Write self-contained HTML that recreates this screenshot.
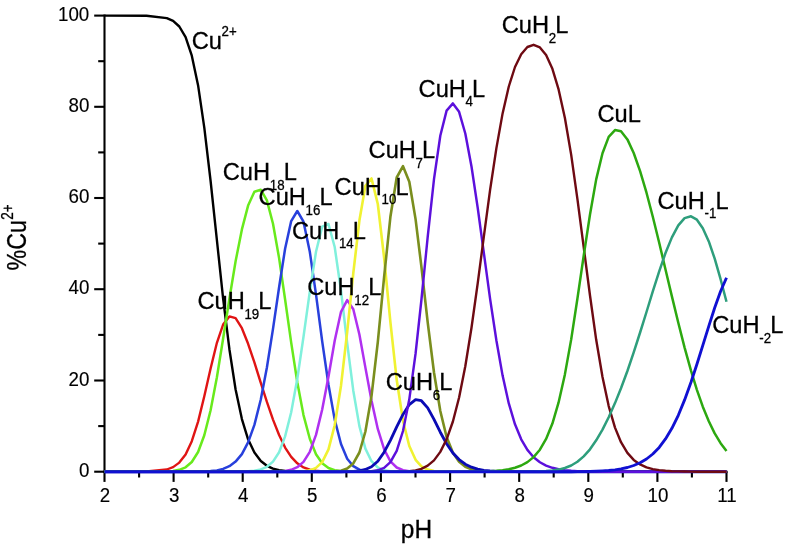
<!DOCTYPE html>
<html><head><meta charset="utf-8"><title>Cu speciation</title>
<style>
html,body{margin:0;padding:0;background:#fff}
svg{display:block}
text{font-family:"Liberation Sans",Arial,sans-serif;fill:#000;stroke:#000;stroke-width:0.3px}
.tk{font-size:20.7px;stroke-width:0.15px}
.lb{font-size:24.5px}
.sb{font-size:15.0px}
.ax line{stroke:#000;stroke-width:2.1}
.cv polyline{fill:none;stroke-linejoin:round;stroke-linecap:butt}
</style></head>
<body>
<svg width="786" height="546" viewBox="0 0 786 546">
<rect width="786" height="546" fill="#fff"/>
<g class="ax">
<line x1="104.5" y1="14.5" x2="104.5" y2="472.8" stroke-width="2.3"/>
<line x1="103.4" y1="471.7" x2="727.6" y2="471.7" stroke-width="2.3"/>
<line x1="94.2" y1="471.7" x2="104.5" y2="471.7"/>
<line x1="98.2" y1="426.1" x2="104.5" y2="426.1"/>
<line x1="94.2" y1="380.5" x2="104.5" y2="380.5"/>
<line x1="98.2" y1="334.9" x2="104.5" y2="334.9"/>
<line x1="94.2" y1="289.2" x2="104.5" y2="289.2"/>
<line x1="98.2" y1="243.6" x2="104.5" y2="243.6"/>
<line x1="94.2" y1="198.0" x2="104.5" y2="198.0"/>
<line x1="98.2" y1="152.4" x2="104.5" y2="152.4"/>
<line x1="94.2" y1="106.8" x2="104.5" y2="106.8"/>
<line x1="98.2" y1="61.2" x2="104.5" y2="61.2"/>
<line x1="94.2" y1="15.6" x2="104.5" y2="15.6"/>
<line x1="104.5" y1="471.7" x2="104.5" y2="481.9"/>
<line x1="139.1" y1="471.7" x2="139.1" y2="477.5"/>
<line x1="173.6" y1="471.7" x2="173.6" y2="481.9"/>
<line x1="208.2" y1="471.7" x2="208.2" y2="477.5"/>
<line x1="242.7" y1="471.7" x2="242.7" y2="481.9"/>
<line x1="277.3" y1="471.7" x2="277.3" y2="477.5"/>
<line x1="311.8" y1="471.7" x2="311.8" y2="481.9"/>
<line x1="346.4" y1="471.7" x2="346.4" y2="477.5"/>
<line x1="380.9" y1="471.7" x2="380.9" y2="481.9"/>
<line x1="415.5" y1="471.7" x2="415.5" y2="477.5"/>
<line x1="450.1" y1="471.7" x2="450.1" y2="481.9"/>
<line x1="484.6" y1="471.7" x2="484.6" y2="477.5"/>
<line x1="519.2" y1="471.7" x2="519.2" y2="481.9"/>
<line x1="553.7" y1="471.7" x2="553.7" y2="477.5"/>
<line x1="588.3" y1="471.7" x2="588.3" y2="481.9"/>
<line x1="622.8" y1="471.7" x2="622.8" y2="477.5"/>
<line x1="657.4" y1="471.7" x2="657.4" y2="481.9"/>
<line x1="691.9" y1="471.7" x2="691.9" y2="477.5"/>
<line x1="726.5" y1="471.7" x2="726.5" y2="481.9"/>
</g>
<g class="tks">
<text transform="translate(89.3,476.8) scale(0.905,1)" text-anchor="end" class="tk">0</text>
<text transform="translate(89.3,385.6) scale(0.905,1)" text-anchor="end" class="tk">20</text>
<text transform="translate(89.3,294.3) scale(0.905,1)" text-anchor="end" class="tk">40</text>
<text transform="translate(89.3,203.1) scale(0.905,1)" text-anchor="end" class="tk">60</text>
<text transform="translate(89.3,111.9) scale(0.905,1)" text-anchor="end" class="tk">80</text>
<text transform="translate(89.3,20.7) scale(0.905,1)" text-anchor="end" class="tk">100</text>
<text transform="translate(105.0,501.8) scale(0.905,1)" text-anchor="middle" class="tk">2</text>
<text transform="translate(174.1,501.8) scale(0.905,1)" text-anchor="middle" class="tk">3</text>
<text transform="translate(243.2,501.8) scale(0.905,1)" text-anchor="middle" class="tk">4</text>
<text transform="translate(312.3,501.8) scale(0.905,1)" text-anchor="middle" class="tk">5</text>
<text transform="translate(381.4,501.8) scale(0.905,1)" text-anchor="middle" class="tk">6</text>
<text transform="translate(450.6,501.8) scale(0.905,1)" text-anchor="middle" class="tk">7</text>
<text transform="translate(519.7,501.8) scale(0.905,1)" text-anchor="middle" class="tk">8</text>
<text transform="translate(588.8,501.8) scale(0.905,1)" text-anchor="middle" class="tk">9</text>
<text transform="translate(657.9,501.8) scale(0.905,1)" text-anchor="middle" class="tk">10</text>
<text transform="translate(727.0,501.8) scale(0.905,1)" text-anchor="middle" class="tk">11</text>
</g>
<g class="cv">
<polyline points="104.5,15.6 146.5,15.8 166.8,18.1 173.1,20.9 179.3,26.5 185.6,37.2 191.8,55.7 198.1,85.4 204.3,127.6 210.6,181.0 216.9,240.2 223.1,298.3 229.4,349.2 235.6,389.5 241.9,419.1 248.1,439.3 254.4,452.5 260.8,461.0 266.9,465.8 273.0,468.6 279.1,470.2 285.1,471.0 291.2,471.4 297.3,471.6 303.5,471.7 309.8,471.7 316.0,471.7 322.2,471.7 328.5,471.7 334.7,471.7 341.0,471.7 347.2,471.7 353.3,471.7 359.4,471.7 365.4,471.7 371.5,471.7 377.8,471.7 384.1,471.7 390.4,471.7 396.7,471.7 403.0,471.7 409.3,471.7 415.6,471.7 421.4,471.7 427.7,471.7 434.0,471.7 440.3,471.7 446.6,471.7 452.9,471.7 459.1,471.7 465.3,471.7 471.5,471.7 477.7,471.7 483.9,471.7 490.1,471.7 496.4,471.7 502.6,471.7 508.8,471.7 515.0,471.7 521.2,471.7 527.4,471.7 533.6,471.7 539.9,471.7 546.1,471.7 552.4,471.7 558.6,471.7 564.9,471.7 571.2,471.7 577.4,471.7 583.7,471.7 590.0,471.7 596.2,471.7 602.5,471.7 608.7,471.7 615.0,471.7 621.0,471.7 627.4,471.7 633.7,471.7 640.1,471.7 646.5,471.7 652.8,471.7 659.2,471.7 665.5,471.7 671.9,471.7 678.3,471.7 684.6,471.7 691.0,471.7 696.9,471.7 702.8,471.7 708.8,471.7 714.7,471.7 720.6,471.7 726.5,471.7" stroke="#000000" stroke-width="2.4"/>
<polyline points="104.5,471.7 146.5,471.5 166.8,469.5 173.1,467.1 179.3,462.6 185.6,454.5 191.8,441.2 198.1,421.6 204.3,396.3 210.6,368.4 216.9,342.8 223.1,324.6 229.4,316.4 235.6,318.2 241.9,328.2 248.1,343.8 254.4,362.4 260.8,382.8 266.9,401.9 273.0,419.6 279.1,435.0 285.1,447.6 291.2,456.9 297.3,463.3 303.5,467.4 309.8,469.7 316.0,470.8 322.2,471.4 328.5,471.6 334.7,471.7 341.0,471.7 347.2,471.7 353.3,471.7 359.4,471.7 365.4,471.7 371.5,471.7 377.8,471.7 384.1,471.7 390.4,471.7 396.7,471.7 403.0,471.7 409.3,471.7 415.6,471.7 421.4,471.7 427.7,471.7 434.0,471.7 440.3,471.7 446.6,471.7 452.9,471.7 459.1,471.7 465.3,471.7 471.5,471.7 477.7,471.7 483.9,471.7 490.1,471.7 496.4,471.7 502.6,471.7 508.8,471.7 515.0,471.7 521.2,471.7 527.4,471.7 533.6,471.7 539.9,471.7 546.1,471.7 552.4,471.7 558.6,471.7 564.9,471.7 571.2,471.7 577.4,471.7 583.7,471.7 590.0,471.7 596.2,471.7 602.5,471.7 608.7,471.7 615.0,471.7 621.0,471.7 627.4,471.7 633.7,471.7 640.1,471.7 646.5,471.7 652.8,471.7 659.2,471.7 665.5,471.7 671.9,471.7 678.3,471.7 684.6,471.7 691.0,471.7 696.9,471.7 702.8,471.7 708.8,471.7 714.7,471.7 720.6,471.7 726.5,471.7" stroke="#E01414" stroke-width="2.4"/>
<polyline points="104.5,471.7 146.5,471.7 166.8,471.4 173.1,470.9 179.3,469.8 185.6,467.3 191.8,462.0 198.1,452.0 204.3,435.2 210.6,410.2 216.9,377.2 223.1,338.8 229.4,298.8 235.6,261.3 241.9,229.4 248.1,205.6 254.4,191.7 260.8,189.7 266.9,200.4 273.0,223.8 279.1,258.1 285.1,299.5 291.2,342.7 297.3,382.3 303.5,415.1 309.8,438.8 316.0,454.2 322.2,463.2 328.5,468.0 334.7,470.2 341.0,471.2 347.2,471.5 353.3,471.7 359.4,471.7 365.4,471.7 371.5,471.7 377.8,471.7 384.1,471.7 390.4,471.7 396.7,471.7 403.0,471.7 409.3,471.7 415.6,471.7 421.4,471.7 427.7,471.7 434.0,471.7 440.3,471.7 446.6,471.7 452.9,471.7 459.1,471.7 465.3,471.7 471.5,471.7 477.7,471.7 483.9,471.7 490.1,471.7 496.4,471.7 502.6,471.7 508.8,471.7 515.0,471.7 521.2,471.7 527.4,471.7 533.6,471.7 539.9,471.7 546.1,471.7 552.4,471.7 558.6,471.7 564.9,471.7 571.2,471.7 577.4,471.7 583.7,471.7 590.0,471.7 596.2,471.7 602.5,471.7 608.7,471.7 615.0,471.7 621.0,471.7 627.4,471.7 633.7,471.7 640.1,471.7 646.5,471.7 652.8,471.7 659.2,471.7 665.5,471.7 671.9,471.7 678.3,471.7 684.6,471.7 691.0,471.7 696.9,471.7 702.8,471.7 708.8,471.7 714.7,471.7 720.6,471.7 726.5,471.7" stroke="#68EA1C" stroke-width="2.5"/>
<polyline points="104.5,471.7 146.5,471.7 166.8,471.7 173.1,471.7 179.3,471.7 185.6,471.7 191.8,471.7 198.1,471.6 204.3,471.5 210.6,471.1 216.9,470.4 223.1,468.9 229.4,466.2 235.6,461.6 241.9,454.1 248.1,442.4 254.4,424.9 260.8,399.5 266.9,367.5 273.0,328.9 279.1,287.2 285.1,248.7 291.2,221.1 297.3,211.0 303.5,221.7 309.8,251.7 316.0,294.4 322.2,341.3 328.5,384.7 334.7,419.6 341.0,444.0 347.2,458.8 353.3,466.2 359.4,469.7 365.4,471.0 371.5,471.5 377.8,471.6 384.1,471.7 390.4,471.7 396.7,471.7 403.0,471.7 409.3,471.7 415.6,471.7 421.4,471.7 427.7,471.7 434.0,471.7 440.3,471.7 446.6,471.7 452.9,471.7 459.1,471.7 465.3,471.7 471.5,471.7 477.7,471.7 483.9,471.7 490.1,471.7 496.4,471.7 502.6,471.7 508.8,471.7 515.0,471.7 521.2,471.7 527.4,471.7 533.6,471.7 539.9,471.7 546.1,471.7 552.4,471.7 558.6,471.7 564.9,471.7 571.2,471.7 577.4,471.7 583.7,471.7 590.0,471.7 596.2,471.7 602.5,471.7 608.7,471.7 615.0,471.7 621.0,471.7 627.4,471.7 633.7,471.7 640.1,471.7 646.5,471.7 652.8,471.7 659.2,471.7 665.5,471.7 671.9,471.7 678.3,471.7 684.6,471.7 691.0,471.7 696.9,471.7 702.8,471.7 708.8,471.7 714.7,471.7 720.6,471.7 726.5,471.7" stroke="#2840DC" stroke-width="2.5"/>
<polyline points="104.5,471.7 146.5,471.7 166.8,471.7 173.1,471.7 179.3,471.7 185.6,471.7 191.8,471.7 198.1,471.7 204.3,471.7 210.6,471.7 216.9,471.7 223.1,471.7 229.4,471.7 235.6,471.6 241.9,471.5 248.1,471.3 254.4,470.7 260.8,469.4 266.9,466.8 273.0,461.6 279.1,452.2 285.1,436.4 291.2,412.2 297.3,378.8 303.5,336.7 309.8,291.7 316.0,251.8 322.2,226.6 328.5,224.0 334.7,247.0 341.0,290.7 347.2,343.5 353.3,390.7 359.4,426.1 365.4,448.6 371.5,461.2 377.8,467.5 384.1,470.3 390.4,471.3 396.7,471.6 403.0,471.7 409.3,471.7 415.6,471.7 421.4,471.7 427.7,471.7 434.0,471.7 440.3,471.7 446.6,471.7 452.9,471.7 459.1,471.7 465.3,471.7 471.5,471.7 477.7,471.7 483.9,471.7 490.1,471.7 496.4,471.7 502.6,471.7 508.8,471.7 515.0,471.7 521.2,471.7 527.4,471.7 533.6,471.7 539.9,471.7 546.1,471.7 552.4,471.7 558.6,471.7 564.9,471.7 571.2,471.7 577.4,471.7 583.7,471.7 590.0,471.7 596.2,471.7 602.5,471.7 608.7,471.7 615.0,471.7 621.0,471.7 627.4,471.7 633.7,471.7 640.1,471.7 646.5,471.7 652.8,471.7 659.2,471.7 665.5,471.7 671.9,471.7 678.3,471.7 684.6,471.7 691.0,471.7 696.9,471.7 702.8,471.7 708.8,471.7 714.7,471.7 720.6,471.7 726.5,471.7" stroke="#80F0DC" stroke-width="2.5"/>
<polyline points="104.5,471.7 146.5,471.7 166.8,471.7 173.1,471.7 179.3,471.7 185.6,471.7 191.8,471.7 198.1,471.7 204.3,471.7 210.6,471.7 216.9,471.7 223.1,471.7 229.4,471.7 235.6,471.7 241.9,471.7 248.1,471.7 254.4,471.7 260.8,471.7 266.9,471.7 273.0,471.6 279.1,471.4 285.1,470.9 291.2,469.8 297.3,467.2 303.5,461.9 309.8,451.8 316.0,434.9 322.2,409.5 328.5,376.4 334.7,340.7 341.0,311.8 347.2,300.1 353.3,309.2 359.4,334.5 365.4,367.6 371.5,400.5 377.8,428.9 384.1,449.2 390.4,461.4 396.7,467.5 403.0,470.2 409.3,471.2 415.6,471.5 421.4,471.7 427.7,471.7 434.0,471.7 440.3,471.7 446.6,471.7 452.9,471.7 459.1,471.7 465.3,471.7 471.5,471.7 477.7,471.7 483.9,471.7 490.1,471.7 496.4,471.7 502.6,471.7 508.8,471.7 515.0,471.7 521.2,471.7 527.4,471.7 533.6,471.7 539.9,471.7 546.1,471.7 552.4,471.7 558.6,471.7 564.9,471.7 571.2,471.7 577.4,471.7 583.7,471.7 590.0,471.7 596.2,471.7 602.5,471.7 608.7,471.7 615.0,471.7 621.0,471.7 627.4,471.7 633.7,471.7 640.1,471.7 646.5,471.7 652.8,471.7 659.2,471.7 665.5,471.7 671.9,471.7 678.3,471.7 684.6,471.7 691.0,471.7 696.9,471.7 702.8,471.7 708.8,471.7 714.7,471.7 720.6,471.7 726.5,471.7" stroke="#B030F0" stroke-width="2.5"/>
<polyline points="104.5,471.7 146.5,471.7 166.8,471.7 173.1,471.7 179.3,471.7 185.6,471.7 191.8,471.7 198.1,471.7 204.3,471.7 210.6,471.7 216.9,471.7 223.1,471.7 229.4,471.7 235.6,471.7 241.9,471.7 248.1,471.7 254.4,471.7 260.8,471.7 266.9,471.7 273.0,471.7 279.1,471.7 285.1,471.7 291.2,471.7 297.3,471.6 303.5,471.3 309.8,470.4 316.0,467.9 322.2,462.1 328.5,449.4 334.7,425.2 341.0,385.7 347.2,331.8 353.3,273.2 359.4,220.5 365.4,185.9 371.5,178.5 377.8,204.0 384.1,257.5 390.4,322.2 396.7,379.8 403.0,420.8 409.3,446.0 415.6,459.8 421.4,466.3 427.7,469.6 434.0,471.0 440.3,471.5 446.6,471.6 452.9,471.7 459.1,471.7 465.3,471.7 471.5,471.7 477.7,471.7 483.9,471.7 490.1,471.7 496.4,471.7 502.6,471.7 508.8,471.7 515.0,471.7 521.2,471.7 527.4,471.7 533.6,471.7 539.9,471.7 546.1,471.7 552.4,471.7 558.6,471.7 564.9,471.7 571.2,471.7 577.4,471.7 583.7,471.7 590.0,471.7 596.2,471.7 602.5,471.7 608.7,471.7 615.0,471.7 621.0,471.7 627.4,471.7 633.7,471.7 640.1,471.7 646.5,471.7 652.8,471.7 659.2,471.7 665.5,471.7 671.9,471.7 678.3,471.7 684.6,471.7 691.0,471.7 696.9,471.7 702.8,471.7 708.8,471.7 714.7,471.7 720.6,471.7 726.5,471.7" stroke="#F0F232" stroke-width="2.6"/>
<polyline points="104.5,471.7 146.5,471.7 166.8,471.7 173.1,471.7 179.3,471.7 185.6,471.7 191.8,471.7 198.1,471.7 204.3,471.7 210.6,471.7 216.9,471.7 223.1,471.7 229.4,471.7 235.6,471.7 241.9,471.7 248.1,471.7 254.4,471.7 260.8,471.7 266.9,471.7 273.0,471.7 279.1,471.7 285.1,471.7 291.2,471.7 297.3,471.7 303.5,471.7 309.8,471.7 316.0,471.7 322.2,471.7 328.5,471.6 334.7,471.4 341.0,470.7 347.2,468.5 353.3,463.4 359.4,452.5 365.4,431.5 371.5,396.1 377.8,342.1 384.1,277.1 390.4,216.8 396.7,177.5 403.0,166.2 409.3,181.8 415.6,219.4 421.4,266.6 427.7,322.3 434.0,372.5 440.3,411.0 446.6,437.0 452.9,452.8 459.1,461.8 465.3,466.7 471.5,469.3 477.7,470.6 483.9,471.2 490.1,471.5 496.4,471.6 502.6,471.7 508.8,471.7 515.0,471.7 521.2,471.7 527.4,471.7 533.6,471.7 539.9,471.7 546.1,471.7 552.4,471.7 558.6,471.7 564.9,471.7 571.2,471.7 577.4,471.7 583.7,471.7 590.0,471.7 596.2,471.7 602.5,471.7 608.7,471.7 615.0,471.7 621.0,471.7 627.4,471.7 633.7,471.7 640.1,471.7 646.5,471.7 652.8,471.7 659.2,471.7 665.5,471.7 671.9,471.7 678.3,471.7 684.6,471.7 691.0,471.7 696.9,471.7 702.8,471.7 708.8,471.7 714.7,471.7 720.6,471.7 726.5,471.7" stroke="#7A8E1E" stroke-width="2.6"/>
<polyline points="104.5,471.7 146.5,471.7 166.8,471.7 173.1,471.7 179.3,471.7 185.6,471.7 191.8,471.7 198.1,471.7 204.3,471.7 210.6,471.7 216.9,471.7 223.1,471.7 229.4,471.7 235.6,471.7 241.9,471.7 248.1,471.7 254.4,471.7 260.8,471.7 266.9,471.7 273.0,471.7 279.1,471.7 285.1,471.7 291.2,471.7 297.3,471.7 303.5,471.7 309.8,471.7 316.0,471.7 322.2,471.7 328.5,471.7 334.7,471.7 341.0,471.7 347.2,471.6 353.3,471.4 359.4,470.9 365.4,469.5 371.5,466.7 377.8,461.2 384.1,452.2 390.4,440.3 396.7,426.9 403.0,414.4 409.3,404.6 415.6,399.6 421.4,400.7 427.7,407.9 434.0,419.4 440.3,432.2 446.6,443.8 452.9,453.0 459.1,459.6 465.3,464.2 471.5,467.2 477.7,469.1 483.9,470.3 490.1,471.0 496.4,471.3 502.6,471.5 508.8,471.6 515.0,471.7 521.2,471.7 527.4,471.7 533.6,471.7 539.9,471.7 546.1,471.7 552.4,471.7 558.6,471.7 564.9,471.7 571.2,471.7 577.4,471.7 583.7,471.7 590.0,471.7 596.2,471.7 602.5,471.7 608.7,471.7 615.0,471.7 621.0,471.7 627.4,471.7 633.7,471.7 640.1,471.7 646.5,471.7 652.8,471.7 659.2,471.7 665.5,471.7 671.9,471.7 678.3,471.7 684.6,471.7 691.0,471.7 696.9,471.7 702.8,471.7 708.8,471.7 714.7,471.7 720.6,471.7 726.5,471.7" stroke="#0A0AB4" stroke-width="2.85"/>
<polyline points="104.5,471.7 146.5,471.7 166.8,471.7 173.1,471.7 179.3,471.7 185.6,471.7 191.8,471.7 198.1,471.7 204.3,471.7 210.6,471.7 216.9,471.7 223.1,471.7 229.4,471.7 235.6,471.7 241.9,471.7 248.1,471.7 254.4,471.7 260.8,471.7 266.9,471.7 273.0,471.7 279.1,471.7 285.1,471.7 291.2,471.7 297.3,471.7 303.5,471.7 309.8,471.7 316.0,471.7 322.2,471.7 328.5,471.7 334.7,471.7 341.0,471.7 347.2,471.7 353.3,471.7 359.4,471.7 365.4,471.6 371.5,471.3 377.8,470.3 384.1,467.8 390.4,462.1 396.7,450.8 403.0,431.0 409.3,399.3 415.6,353.4 421.4,300.0 427.7,236.9 434.0,179.1 440.3,135.7 446.6,110.6 452.9,103.4 459.1,111.8 465.3,133.5 471.5,166.5 477.7,207.7 483.9,253.3 490.1,298.9 496.4,340.5 502.6,375.6 508.8,403.4 515.0,424.3 521.2,439.3 527.4,449.9 533.6,457.2 539.9,462.2 546.1,465.6 552.4,467.8 558.6,469.3 564.9,470.2 571.2,470.8 577.4,471.2 583.7,471.4 590.0,471.6 596.2,471.6 602.5,471.7 608.7,471.7 615.0,471.7 621.0,471.7 627.4,471.7 633.7,471.7 640.1,471.7 646.5,471.7 652.8,471.7 659.2,471.7 665.5,471.7 671.9,471.7 678.3,471.7 684.6,471.7 691.0,471.7 696.9,471.7 702.8,471.7 708.8,471.7 714.7,471.7 720.6,471.7 726.5,471.7" stroke="#5C10DC" stroke-width="2.45"/>
<polyline points="104.5,471.7 146.5,471.7 166.8,471.7 173.1,471.7 179.3,471.7 185.6,471.7 191.8,471.7 198.1,471.7 204.3,471.7 210.6,471.7 216.9,471.7 223.1,471.7 229.4,471.7 235.6,471.7 241.9,471.7 248.1,471.7 254.4,471.7 260.8,471.7 266.9,471.7 273.0,471.7 279.1,471.7 285.1,471.7 291.2,471.7 297.3,471.7 303.5,471.7 309.8,471.7 316.0,471.7 322.2,471.7 328.5,471.7 334.7,471.7 341.0,471.7 347.2,471.7 353.3,471.7 359.4,471.7 365.4,471.7 371.5,471.7 377.8,471.7 384.1,471.7 390.4,471.7 396.7,471.6 403.0,471.5 409.3,471.2 415.6,470.4 421.4,468.8 427.7,465.7 434.0,460.4 440.3,451.9 446.6,439.3 452.9,421.5 459.1,397.5 465.3,366.3 471.5,327.8 477.7,283.4 483.9,236.2 490.1,189.8 496.4,148.1 502.6,113.4 508.8,86.5 515.0,67.0 521.2,54.2 527.4,47.0 533.6,44.8 539.9,47.4 546.1,55.1 552.4,68.8 558.6,89.4 564.9,118.0 571.2,154.9 577.4,198.9 583.7,247.2 590.0,295.5 596.2,339.8 602.5,377.0 608.7,406.1 615.0,427.6 621.0,442.2 627.4,452.9 633.7,459.9 640.1,464.4 646.5,467.3 652.8,469.1 659.2,470.1 665.5,470.8 671.9,471.2 678.3,471.4 684.6,471.5 691.0,471.6 696.9,471.7 702.8,471.7 708.8,471.7 714.7,471.7 720.6,471.7 726.5,471.7" stroke="#6E0A12" stroke-width="2.4"/>
<polyline points="104.5,471.7 146.5,471.7 166.8,471.7 173.1,471.7 179.3,471.7 185.6,471.7 191.8,471.7 198.1,471.7 204.3,471.7 210.6,471.7 216.9,471.7 223.1,471.7 229.4,471.7 235.6,471.7 241.9,471.7 248.1,471.7 254.4,471.7 260.8,471.7 266.9,471.7 273.0,471.7 279.1,471.7 285.1,471.7 291.2,471.7 297.3,471.7 303.5,471.7 309.8,471.7 316.0,471.7 322.2,471.7 328.5,471.7 334.7,471.7 341.0,471.7 347.2,471.7 353.3,471.7 359.4,471.7 365.4,471.7 371.5,471.7 377.8,471.7 384.1,471.7 390.4,471.7 396.7,471.7 403.0,471.7 409.3,471.7 415.6,471.7 421.4,471.7 427.7,471.7 434.0,471.7 440.3,471.7 446.6,471.7 452.9,471.7 459.1,471.7 465.3,471.7 471.5,471.6 477.7,471.5 483.9,471.4 490.1,471.2 496.4,470.8 502.6,470.2 508.8,469.2 515.0,467.7 521.2,465.5 527.4,462.1 533.6,457.1 539.9,449.7 546.1,438.9 552.4,423.6 558.6,402.4 564.9,374.4 571.2,339.4 577.4,298.8 583.7,255.8 590.0,214.5 596.2,179.4 602.5,153.2 608.7,136.9 615.0,130.1 621.0,131.3 627.4,139.4 633.7,153.0 640.1,171.1 646.5,192.7 652.8,216.8 659.2,242.7 665.5,269.5 671.9,296.4 678.3,322.7 684.6,347.6 691.0,370.6 696.9,389.8 702.8,406.7 708.8,421.2 714.7,433.4 720.6,443.2 726.5,451.1" stroke="#2CA810" stroke-width="2.5"/>
<polyline points="104.5,471.7 146.5,471.7 166.8,471.7 173.1,471.7 179.3,471.7 185.6,471.7 191.8,471.7 198.1,471.7 204.3,471.7 210.6,471.7 216.9,471.7 223.1,471.7 229.4,471.7 235.6,471.7 241.9,471.7 248.1,471.7 254.4,471.7 260.8,471.7 266.9,471.7 273.0,471.7 279.1,471.7 285.1,471.7 291.2,471.7 297.3,471.7 303.5,471.7 309.8,471.7 316.0,471.7 322.2,471.7 328.5,471.7 334.7,471.7 341.0,471.7 347.2,471.7 353.3,471.7 359.4,471.7 365.4,471.7 371.5,471.7 377.8,471.7 384.1,471.7 390.4,471.7 396.7,471.7 403.0,471.7 409.3,471.7 415.6,471.7 421.4,471.7 427.7,471.7 434.0,471.7 440.3,471.7 446.6,471.7 452.9,471.7 459.1,471.7 465.3,471.7 471.5,471.7 477.7,471.7 483.9,471.7 490.1,471.7 496.4,471.7 502.6,471.7 508.8,471.7 515.0,471.7 521.2,471.6 527.4,471.6 533.6,471.5 539.9,471.3 546.1,471.0 552.4,470.5 558.6,469.6 564.9,468.0 571.2,465.5 577.4,461.8 583.7,456.4 590.0,449.3 596.2,440.3 602.5,429.6 608.7,417.2 615.0,403.1 621.0,388.3 627.4,371.0 633.7,352.3 640.1,332.5 646.5,312.0 652.8,291.3 659.2,271.4 665.5,253.0 671.9,237.4 678.3,225.4 684.6,218.1 691.0,216.3 696.9,219.7 702.8,228.2 708.8,241.4 714.7,258.7 720.6,279.2 726.5,301.8" stroke="#2E9E7C" stroke-width="2.5"/>
<polyline points="104.5,471.7 146.5,471.7 166.8,471.7 173.1,471.7 179.3,471.7 185.6,471.7 191.8,471.7 198.1,471.7 204.3,471.7 210.6,471.7 216.9,471.7 223.1,471.7 229.4,471.7 235.6,471.7 241.9,471.7 248.1,471.7 254.4,471.7 260.8,471.7 266.9,471.7 273.0,471.7 279.1,471.7 285.1,471.7 291.2,471.7 297.3,471.7 303.5,471.7 309.8,471.7 316.0,471.7 322.2,471.7 328.5,471.7 334.7,471.7 341.0,471.7 347.2,471.7 353.3,471.7 359.4,471.7 365.4,471.7 371.5,471.7 377.8,471.7 384.1,471.7 390.4,471.7 396.7,471.7 403.0,471.7 409.3,471.7 415.6,471.7 421.4,471.7 427.7,471.7 434.0,471.7 440.3,471.7 446.6,471.7 452.9,471.7 459.1,471.7 465.3,471.7 471.5,471.7 477.7,471.7 483.9,471.7 490.1,471.7 496.4,471.7 502.6,471.7 508.8,471.7 515.0,471.7 521.2,471.7 527.4,471.7 533.6,471.7 539.9,471.7 546.1,471.7 552.4,471.7 558.6,471.7 564.9,471.7 571.2,471.7 577.4,471.6 583.7,471.6 590.0,471.4 596.2,471.2 602.5,470.9 608.7,470.5 615.0,469.8 621.0,468.9 627.4,467.5 633.7,465.5 640.1,462.8 646.5,459.0 652.8,454.0 659.2,447.4 665.5,438.9 671.9,428.3 678.3,415.3 684.6,399.9 691.0,382.3 696.9,364.3 702.8,345.3 708.8,326.1 714.7,307.7 720.6,291.2 726.5,277.7" stroke="#1010D2" stroke-width="2.85"/>
</g>
<g class="lbs">
<g transform="translate(191.8,49.2)"><text class="lb" transform="scale(0.965,1)">Cu</text><text class="sb" transform="translate(29.77,-12.9) scale(0.885,1)">2+</text></g>
<g transform="translate(197.5,309.3)"><text class="lb" transform="scale(0.965,1)">CuH</text><text class="sb" transform="translate(46.98,9.6) scale(0.885,1)">19</text><text class="lb" transform="translate(60.85,0) scale(0.965,1)">L</text></g>
<g transform="translate(222.8,180.4)"><text class="lb" transform="scale(0.965,1)">CuH</text><text class="sb" transform="translate(46.98,9.6) scale(0.885,1)">18</text><text class="lb" transform="translate(60.85,0) scale(0.965,1)">L</text></g>
<g transform="translate(258.6,205.0)"><text class="lb" transform="scale(0.965,1)">CuH</text><text class="sb" transform="translate(46.98,9.6) scale(0.885,1)">16</text><text class="lb" transform="translate(60.85,0) scale(0.965,1)">L</text></g>
<g transform="translate(292.0,238.6)"><text class="lb" transform="scale(0.965,1)">CuH</text><text class="sb" transform="translate(46.98,9.6) scale(0.885,1)">14</text><text class="lb" transform="translate(60.85,0) scale(0.965,1)">L</text></g>
<g transform="translate(307.3,295.0)"><text class="lb" transform="scale(0.965,1)">CuH</text><text class="sb" transform="translate(46.98,9.6) scale(0.885,1)">12</text><text class="lb" transform="translate(60.85,0) scale(0.965,1)">L</text></g>
<g transform="translate(334.6,194.5)"><text class="lb" transform="scale(0.965,1)">CuH</text><text class="sb" transform="translate(46.98,9.6) scale(0.885,1)">10</text><text class="lb" transform="translate(60.85,0) scale(0.965,1)">L</text></g>
<g transform="translate(368.6,158.4)"><text class="lb" transform="scale(0.965,1)">CuH</text><text class="sb" transform="translate(46.98,9.6) scale(0.885,1)">7</text><text class="lb" transform="translate(53.47,0) scale(0.965,1)">L</text></g>
<g transform="translate(385.7,390.2)"><text class="lb" transform="scale(0.965,1)">CuH</text><text class="sb" transform="translate(46.98,9.6) scale(0.885,1)">6</text><text class="lb" transform="translate(53.47,0) scale(0.965,1)">L</text></g>
<g transform="translate(418.6,96.6)"><text class="lb" transform="scale(0.965,1)">CuH</text><text class="sb" transform="translate(46.98,9.6) scale(0.885,1)">4</text><text class="lb" transform="translate(53.47,0) scale(0.965,1)">L</text></g>
<g transform="translate(501.8,33.0)"><text class="lb" transform="scale(0.965,1)">CuH</text><text class="sb" transform="translate(46.98,9.6) scale(0.885,1)">2</text><text class="lb" transform="translate(53.47,0) scale(0.965,1)">L</text></g>
<g transform="translate(597.5,121.8)"><text class="lb" transform="scale(0.965,1)">CuL</text></g>
<g transform="translate(657.5,208.8)"><text class="lb" transform="scale(0.965,1)">CuH</text><text class="sb" transform="translate(46.98,9.6) scale(0.885,1)">-1</text><text class="lb" transform="translate(57.89,0) scale(0.965,1)">L</text></g>
<g transform="translate(712.3,333.2)"><text class="lb" transform="scale(0.965,1)">CuH</text><text class="sb" transform="translate(46.98,9.6) scale(0.885,1)">-2</text><text class="lb" transform="translate(57.89,0) scale(0.965,1)">L</text></g>
</g>
<text transform="translate(400.8,537.7) scale(0.928,1)" style="font-size:26.4px">pH</text>
<text transform="translate(26.2,270.5) rotate(-90) scale(0.845,1)" style="font-size:27.5px">%Cu<tspan style="font-size:16px" dy="-13.5" dx="0.5">2+</tspan></text>
</svg>
</body></html>
